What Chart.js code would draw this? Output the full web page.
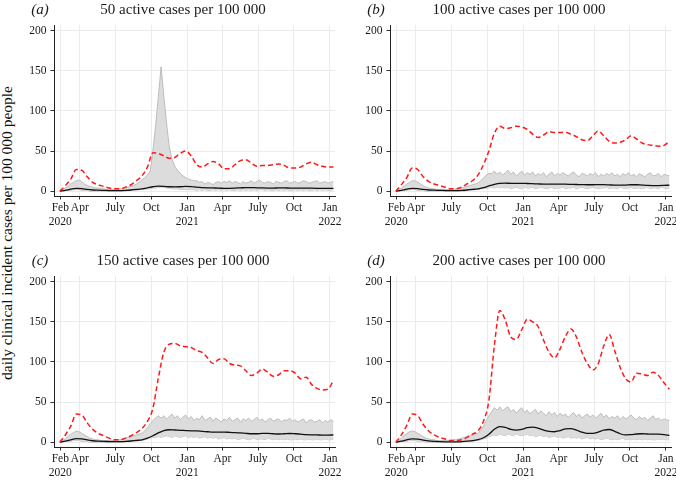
<!DOCTYPE html>
<html>
<head>
<meta charset="utf-8">
<script src="https://cdn.jsdelivr.net/npm/chart.js"></script>
<style>
  html, body { margin: 0; padding: 0; background: #fff; }
  body { width: 676px; height: 480px; position: relative; overflow: hidden; font-family: 'Liberation Serif', serif; }
  canvas { position: absolute; }
  #ylab {
    position: absolute; left: -193px; top: 223.5px; width: 400px; height: 18px;
    line-height: 18px; text-align: center; font-size: 15.5px; color: #111;
    white-space: nowrap; transform: rotate(-90deg);
  }
</style>
</head>
<body>
<div id="ylab">daily clinical incident cases per 100 000 people</div>
<canvas id="pa" width="350" height="229" style="left:0;top:0"></canvas>
<canvas id="pb" width="350" height="229" style="left:336px;top:0"></canvas>
<canvas id="pc" width="350" height="229" style="left:0;top:251px"></canvas>
<canvas id="pd" width="350" height="229" style="left:336px;top:251px"></canvas>
<script>
// x values are days since 1 Jan 2020
const tickDays = [41, 91, 182, 274, 366, 456, 547, 639, 731];
const tickLabels = [['Feb', '2020'], 'Apr', 'July', 'Oct', ['Jan', '2021'], 'Apr', 'July', 'Oct', ['Jan', '2022']];
const yTicks = [0, 50, 100, 150, 200];

const panelTags = ['(a)', '(b)', '(c)', '(d)'];
const panelTitles = ['50 active cases per 100 000', '100 active cases per 100 000', '150 active cases per 100 000', '200 active cases per 100 000'];

// fortnightly points for the two lines
const lineDays = [40, 54, 68, 82, 96, 110, 124, 138, 152, 166, 180, 194, 208, 222, 236, 250, 264, 278, 292, 306,
  320, 334, 348, 362, 376, 390, 404, 418, 432, 446, 460, 474, 488, 502, 516, 530, 544, 558, 572, 586,
  600, 614, 628, 642, 656, 670, 684, 698, 712, 726, 740];

// weekly points for the grey band
const bandDays = [40, 47, 54, 61, 68, 75, 82, 89, 96, 103,
  110, 117, 124, 131, 138, 145, 152, 159, 166, 173,
  180, 187, 194, 201, 208, 215, 222, 229, 236, 243,
  250, 257, 264, 271, 278, 285, 292, 299, 306, 313,
  320, 327, 334, 341, 348, 355, 362, 369, 376, 383,
  390, 397, 404, 411, 418, 425, 432, 439, 446, 453,
  460, 467, 474, 481, 488, 495, 502, 509, 516, 523,
  530, 537, 544, 551, 558, 565, 572, 579, 586, 593,
  600, 607, 614, 621, 628, 635, 642, 649, 656, 663,
  670, 677, 684, 691, 698, 705, 712, 719, 726, 733, 740];

// red dashed
const redA = [0, 7, 15, 27, 26, 18, 11, 8, 6, 4, 3, 3, 5, 8, 13, 19, 30, 48, 47, 44,
  41, 42, 47, 50, 44, 33, 30, 34, 37, 34, 28, 28, 33, 38, 39, 35, 31, 32, 32, 33,
  34, 32, 29, 29, 30, 34, 36, 33, 31, 30, 30];
const redB = [0, 8, 17, 29, 27, 18, 12, 9, 7, 5, 3, 3, 5, 9, 13, 20, 33, 50, 72, 81,
  78, 79, 81, 80, 77, 71, 67, 70, 74, 73, 73, 73, 71, 68, 64, 63, 69, 75, 69, 62,
  60, 61, 64, 69, 65, 60, 58, 57, 56, 57, 62];
const redC = [0, 9, 20, 35, 34, 24, 16, 11, 8, 5, 3, 3, 5, 8, 12, 17, 26, 42, 80, 112,
  122, 123, 120, 119, 118, 114, 112, 105, 98, 103, 104, 98, 96, 95, 89, 83, 86, 91, 87, 82,
  84, 89, 89, 86, 79, 81, 72, 67, 65, 66, 77];
const redD = [0, 9, 21, 35, 33, 22, 14, 9, 6, 4, 2, 2, 3, 6, 10, 14, 26, 52, 120, 164,
  152, 131, 128, 140, 153, 150, 144, 127, 112, 105, 116, 132, 141, 131, 112, 98, 90, 98, 120, 134,
  114, 93, 79, 75, 86, 85, 83, 87, 83, 74, 66];

// black solid
const blackA = [0, 1, 2.5, 3.5, 3.3, 2.2, 1.5, 1.2, 1, 0.8, 0.7, 0.7, 1, 1.5, 2.2, 3, 4.2, 5.5, 6.2, 6,
  5.5, 5.3, 5.5, 6, 5.8, 5, 4.5, 4.2, 4, 3.8, 3.5, 3.6, 3.8, 4.2, 4.5, 4.5, 4.2, 4, 3.9, 3.9,
  4, 4, 3.9, 3.8, 3.8, 3.8, 3.7, 3.6, 3.5, 3.5, 3.4];
const blackB = [0, 1, 2.5, 3.5, 3.3, 2.2, 1.5, 1.2, 1, 0.8, 0.6, 0.7, 1, 1.5, 2.2, 3, 4.5, 6.5, 8.5, 9.8,
  10, 9.8, 9.8, 9.8, 9.6, 9.3, 9, 8.8, 8.8, 8.8, 8.8, 8.7, 8.5, 8.3, 8.2, 8, 8, 8.2, 8.2, 7.8,
  7.5, 7.5, 7.6, 8, 8, 7.6, 7.2, 7, 7, 7.2, 7.5];
const blackC = [0, 1.2, 3, 4.5, 4.2, 2.8, 1.8, 1.3, 1, 0.8, 0.6, 0.7, 1, 1.5, 2.2, 3, 5, 8, 11.5, 14.5,
  15.5, 15.2, 14.8, 14.5, 14.2, 14, 13.5, 13, 12.5, 12.5, 12.5, 12.3, 12, 11.5, 11, 10.5, 10.5, 11, 11, 10.5,
  10.2, 10.5, 10.8, 10.5, 10, 9.5, 9.2, 9, 8.8, 8.8, 9];
const blackD = [0, 1.2, 3, 4, 3.8, 2.5, 1.5, 1, 0.7, 0.5, 0.4, 0.5, 0.8, 1.3, 2, 3.2, 5.5, 10, 16, 19.5,
  18.5, 16, 15, 16, 18, 18.8, 17.5, 15, 13.5, 13, 14.5, 16.5, 16.8, 15, 12.5, 11, 11, 12.5, 15, 15.8,
  13.5, 10.5, 9, 9.5, 10.2, 10.5, 10.2, 10, 10, 9.5, 8.5];

// grey band, upper and lower edge
const upperA = [0, 2, 4, 6, 9, 11, 13, 14, 12, 9, 7, 6, 5, 4, 4, 3, 3, 2, 2, 2,
  2, 2, 3, 3, 4, 5, 6, 7, 9, 11, 14, 17, 20, 25, 50, 82, 118, 155, 118, 85,
  55, 40, 31, 26, 22, 19, 17, 15, 14, 13, 13, 11, 12, 9, 11, 10, 8, 11, 12, 10,
  12, 11, 13, 10, 12, 11, 9, 12, 10, 11, 13, 10, 12, 14, 11, 10, 12, 11, 9, 12,
  11, 10, 12, 13, 10, 11, 12, 10, 11, 13, 12, 10, 11, 12, 13, 10, 11, 12, 10, 11, 12];
const lowerA = [0, 0, 1, 1, 1, 2, 2, 2, 1, 1, 1, 0, 0, 0, 0, 0, 0, 0, 0, 0,
  0, 0, 0, 0, 0, 1, 1, 1, 1, 2, 2, 2, 3, 3, 4, 4, 5, 5, 5, 4,
  4, 3, 3, 3, 2, 2, 2, 2, 2, 2, 1, 2, 1, 2, 1, 1, 2, 1, 2, 1,
  2, 1, 2, 1, 1, 2, 1, 2, 1, 2, 1, 2, 1, 2, 2, 1, 2, 1, 1, 2,
  1, 2, 1, 2, 1, 1, 2, 1, 2, 1, 2, 1, 1, 2, 1, 2, 1, 2, 1, 1, 2];
const upperB = [0, 2, 4, 6, 9, 11, 13, 13, 11, 9, 7, 5, 4, 3, 3, 2, 2, 2, 2, 2,
  2, 2, 3, 3, 4, 5, 6, 7, 8, 9, 10, 13, 16, 20, 22, 22, 25, 21, 24, 20,
  23, 26, 21, 24, 19, 22, 25, 20, 23, 21, 24, 19, 22, 20, 23, 18, 21, 24, 19, 22,
  20, 23, 21, 19, 22, 24, 20, 18, 22, 21, 19, 22, 20, 23, 18, 21, 19, 22, 20, 23,
  19, 21, 18, 22, 20, 23, 19, 21, 18, 22, 20, 18, 21, 23, 19, 20, 22, 18, 21, 20, 19];
const lowerB = [0, 0, 1, 1, 1, 2, 2, 2, 1, 1, 1, 0, 0, 0, 0, 0, 0, 0, 0, 0,
  0, 0, 0, 0, 0, 0, 1, 1, 1, 2, 2, 3, 3, 4, 4, 5, 4, 5, 4, 5,
  4, 5, 3, 4, 5, 4, 3, 5, 4, 4, 5, 3, 4, 5, 4, 3, 4, 5, 3, 4,
  4, 5, 3, 4, 4, 5, 3, 4, 5, 4, 3, 4, 5, 4, 3, 4, 4, 5, 3, 4,
  4, 3, 5, 4, 3, 4, 5, 3, 4, 4, 3, 4, 5, 3, 4, 4, 3, 5, 4, 3, 4];
const upperC = [0, 2, 4, 7, 10, 12, 14, 13, 11, 9, 7, 5, 4, 3, 3, 2, 2, 2, 2, 2,
  2, 3, 3, 4, 5, 6, 7, 8, 9, 10, 11, 14, 18, 23, 27, 30, 33, 30, 33, 29,
  32, 35, 30, 33, 28, 31, 34, 29, 32, 27, 30, 28, 33, 27, 29, 31, 26, 30, 28, 25,
  29, 27, 31, 26, 28, 30, 25, 29, 27, 30, 26, 28, 31, 27, 29, 25, 28, 30, 26, 28,
  29, 25, 28, 27, 30, 26, 28, 25, 27, 29, 24, 27, 28, 25, 26, 28, 24, 27, 25, 28, 26];
const lowerC = [0, 0, 1, 1, 1, 2, 2, 2, 1, 1, 1, 0, 0, 0, 0, 0, 0, 0, 0, 0,
  0, 0, 0, 0, 0, 1, 1, 1, 1, 2, 2, 3, 4, 5, 6, 6, 7, 6, 7, 8,
  7, 6, 8, 7, 6, 7, 8, 6, 7, 6, 7, 5, 6, 7, 5, 6, 5, 6, 4, 5,
  6, 4, 5, 4, 5, 3, 4, 5, 4, 3, 4, 5, 3, 4, 4, 3, 5, 4, 3, 4,
  3, 4, 3, 4, 3, 3, 4, 3, 4, 3, 3, 4, 3, 3, 4, 3, 3, 4, 3, 3, 4];
const upperD = [0, 2, 5, 8, 11, 13, 14, 13, 11, 9, 7, 5, 4, 3, 3, 2, 2, 2, 2, 2,
  2, 3, 3, 4, 5, 6, 7, 8, 9, 10, 11, 15, 20, 27, 33, 38, 43, 40, 44, 39,
  42, 44, 38, 41, 36, 40, 43, 37, 40, 35, 38, 41, 35, 39, 36, 33, 38, 34, 37, 32,
  36, 33, 35, 31, 34, 37, 32, 35, 30, 33, 35, 31, 34, 30, 33, 36, 31, 34, 29, 32,
  30, 33, 28, 32, 29, 31, 34, 30, 28, 32, 29, 31, 27, 30, 33, 28, 30, 27, 29, 28, 27];
const lowerD = [0, 0, 1, 1, 1, 2, 2, 2, 1, 1, 1, 0, 0, 0, 0, 0, 0, 0, 0, 0,
  0, 0, 0, 0, 0, 1, 1, 1, 1, 2, 2, 3, 4, 5, 7, 8, 9, 8, 10, 9,
  8, 10, 9, 8, 10, 9, 8, 9, 10, 8, 9, 7, 8, 9, 7, 8, 6, 7, 8, 6,
  7, 5, 6, 7, 5, 6, 5, 6, 4, 5, 6, 4, 5, 4, 5, 3, 4, 5, 4, 3,
  4, 3, 4, 5, 3, 4, 3, 4, 3, 4, 3, 4, 3, 4, 3, 3, 4, 3, 4, 3, 3];

Chart.defaults.font.family = "'Liberation Serif', serif";
Chart.defaults.color = '#1a1a1a';

const pts = (xs, ys) => xs.map((x, k) => ({ x: x, y: ys[k] }));

// panel letter + heading, drawn above the plot area
const panelText = {
  id: 'panelText',
  afterDraw(chart, args, opts) {
    const c = chart.ctx;
    c.save();
    c.fillStyle = '#1a1a1a';
    c.textAlign = 'center';
    c.textBaseline = 'alphabetic';
    c.font = "italic 15px 'Liberation Serif'";
    c.fillText(opts.tag, 40, 13.5);
    c.font = "15px 'Liberation Serif'";
    c.fillText(opts.title, 183, 13.5);
    c.restore();
  }
};

const gridOpts = { color: '#ebebeb', lineWidth: 1, tickColor: '#333', tickLength: 3.5 };
const borderOpts = { display: true, color: '#222', width: 1 };

function makePanel(id, k, red, black, upper, lower) {
  new Chart(document.getElementById(id), {
    type: 'line',
    data: {
      datasets: [
        { data: pts(lineDays, red), borderColor: '#ff1a1a', borderWidth: 1.5, borderDash: [5, 3],
          cubicInterpolationMode: 'monotone', pointRadius: 0, fill: false },
        { data: pts(lineDays, black), borderColor: '#111', borderWidth: 1.3,
          cubicInterpolationMode: 'monotone', pointRadius: 0, fill: false },
        { data: pts(bandDays, upper), borderColor: '#b8b8b8', borderWidth: 0.9,
          backgroundColor: '#dcdcdc', fill: '+1', pointRadius: 0, tension: 0 },
        { data: pts(bandDays, lower), borderColor: '#b8b8b8', borderWidth: 0.9,
          pointRadius: 0, fill: false, tension: 0 }
      ]
    },
    options: {
      responsive: false,
      animation: false,
      events: [],
      layout: { padding: { top: 25, right: 15, left: 0, bottom: 0 } },
      scales: {
        x: {
          type: 'linear',
          min: 25,
          max: 744,
          afterBuildTicks: (s) => { s.ticks = tickDays.map(v => ({ value: v })); },
          afterFit: (s) => { s.height = 33; },
          ticks: {
            autoSkip: false, maxRotation: 0, padding: 2,
            font: { size: 11.5, lineHeight: 1.16 },
            callback: (v, i) => tickLabels[i]
          },
          grid: gridOpts,
          border: borderOpts
        },
        y: {
          min: -6,
          max: 207,
          afterBuildTicks: (s) => { s.ticks = yTicks.map(v => ({ value: v })); },
          afterFit: (s) => { s.width = 54; },
          ticks: { padding: 4, font: { size: 11.5 } },
          grid: gridOpts,
          border: borderOpts
        }
      },
      plugins: {
        legend: { display: false },
        tooltip: { enabled: false },
        panelText: { tag: panelTags[k], title: panelTitles[k] }
      }
    },
    plugins: [panelText]
  });
}

makePanel('pa', 0, redA, blackA, upperA, lowerA);
makePanel('pb', 1, redB, blackB, upperB, lowerB);
makePanel('pc', 2, redC, blackC, upperC, lowerC);
makePanel('pd', 3, redD, blackD, upperD, lowerD);
</script>
</body>
</html>
